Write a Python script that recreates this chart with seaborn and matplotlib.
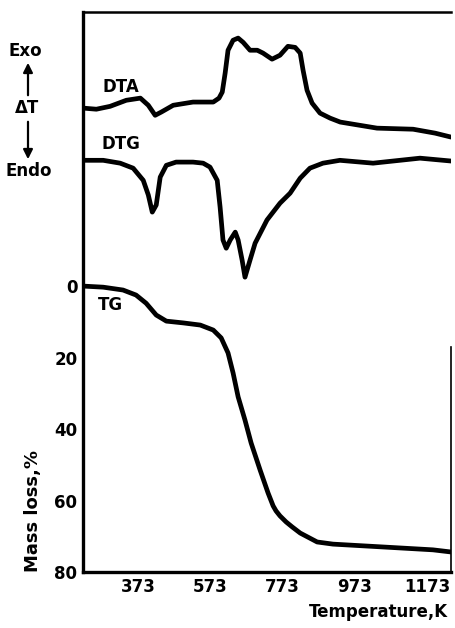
import numpy as np
import pandas as pd
import matplotlib
matplotlib.use("Agg")
import matplotlib.pyplot as plt
import seaborn as sns

# curve values (upper curves sit on the same axis, offset above 0)
dta_T = [221, 257, 295, 340, 379, 401, 420, 437, 470, 525, 581, 597, 606, 614, 622,
         636, 650, 664, 683, 703, 719, 744, 766, 788, 808, 822, 830, 841, 855, 877,
         905, 933, 1035, 1135, 1196, 1240]
dta_y = [-49.8, -49.5, -50.3, -52.0, -52.6, -50.6, -47.8, -48.7, -50.6, -51.5, -51.5,
         -52.6, -54.3, -59.6, -66.0, -68.8, -69.4, -68.2, -66.0, -66.0, -65.2, -63.5,
         -64.6, -67.1, -66.8, -65.2, -60.4, -54.8, -51.2, -48.4, -47.0, -45.9, -44.2,
         -43.9, -42.8, -41.7]

dtg_T = [221, 276, 323, 359, 387, 401, 412, 423, 434, 451, 478, 525, 553, 572, 592,
         600, 608, 617, 628, 642, 650, 661, 669, 683, 697, 730, 766, 794, 822, 849,
         885, 932, 1024, 1154, 1240]
dtg_y = [-35.2, -35.2, -34.4, -33.0, -29.6, -25.5, -20.7, -22.7, -30.5, -33.8, -34.7,
         -34.7, -34.4, -33.3, -29.6, -22.1, -12.9, -10.6, -12.9, -15.1, -12.9, -7.3,
         -2.5, -7.3, -12.0, -18.5, -23.2, -26.0, -30.2, -33.0, -34.4, -35.2, -34.4,
         -35.8, -35.0]

tg_T = [221, 276, 331, 367, 395, 423, 451, 498, 545, 581, 603, 622, 636, 650, 669,
        686, 711, 733, 747, 755, 766, 783, 800, 822, 869, 913, 1052, 1190, 1240]
tg_loss = [0, 0.3, 1.1, 2.5, 4.8, 8.1, 9.8, 10.3, 10.9, 12.3, 14.5, 18.7, 24.3, 31.0,
           37.5, 43.9, 51.5, 57.9, 61.5, 62.9, 64.3, 66.0, 67.4, 69.1, 71.6, 72.2,
           73.0, 73.8, 74.4]

x_ticks = [373, 573, 773, 973, 1173]
y_ticks = [0, 20, 40, 60, 80]

sns.set_style("white")
plt.rcParams["font.family"] = ["DejaVu Sans"]
plt.rcParams["font.weight"] = "bold"
plt.rcParams["text.color"] = "black"
plt.rcParams["xtick.color"] = "black"
plt.rcParams["ytick.color"] = "black"

fig = plt.figure(figsize=(4.55, 6.28), dpi=100)
ax = fig.add_axes([83 / 455, 1 - 572 / 628, 368 / 455, 560 / 628])

line_kw = dict(color="black", linewidth=3.4, estimator=None, sort=False, legend=False)
for T, y in [(dta_T, dta_y), (dtg_T, dtg_y), (tg_T, tg_loss)]:
    df = pd.DataFrame({"T": T, "y": y})
    sns.lineplot(data=df, x="T", y="y", ax=ax, **line_kw)
for l in ax.lines:
    l.set_solid_capstyle("round")
    l.set_solid_joinstyle("round")

ax.set_xlim(220, 1240)
ax.set_ylim(80, -76.7)
ax.set_xticks(x_ticks)
ax.set_yticks(y_ticks)
ax.tick_params(direction="in", length=10, width=1.5, labelsize=12, pad=4,
               color="black", labelcolor="black")
for lab in ax.get_xticklabels() + ax.get_yticklabels():
    lab.set_fontweight("bold")
ax.set_xlabel("")
ax.set_ylabel("")

for s in ax.spines.values():
    s.set_color("black")
ax.spines["left"].set_linewidth(2.4)
ax.spines["bottom"].set_linewidth(2.4)
ax.spines["top"].set_linewidth(1.8)
ax.spines["right"].set_linewidth(1.2)
ax.spines["right"].set_bounds(17, 80)

def px(x, y):
    return x / 455, 1 - y / 628

txt = dict(fontsize=12, fontweight="bold", ha="center", va="center", color="black")
fig.text(*px(25, 51), "Exo", **txt)
fig.text(*px(27, 108), "ΔT", **txt)
fig.text(*px(29, 171), "Endo", **txt)
fig.text(*px(121, 87), "DTA", **txt)
fig.text(*px(121, 144), "DTG", **txt)
fig.text(*px(110, 305), "TG", **txt)
fig.text(*px(33, 511), "Mass loss,%", rotation=90, fontsize=13, fontweight="bold",
         ha="center", va="center", color="black")
fig.text(*px(448, 612), "Temperature,K", fontsize=12, fontweight="bold",
         ha="right", va="center", color="black")

arrow = dict(arrowstyle="-|>", lw=1.6, color="black", mutation_scale=14)
fig.add_artist(matplotlib.patches.FancyArrowPatch(px(28, 98), px(28, 60),
               transform=fig.transFigure, **arrow))
fig.add_artist(matplotlib.patches.FancyArrowPatch(px(28, 119), px(28, 162),
               transform=fig.transFigure, **arrow))

fig.savefig("out.png", dpi=100)
